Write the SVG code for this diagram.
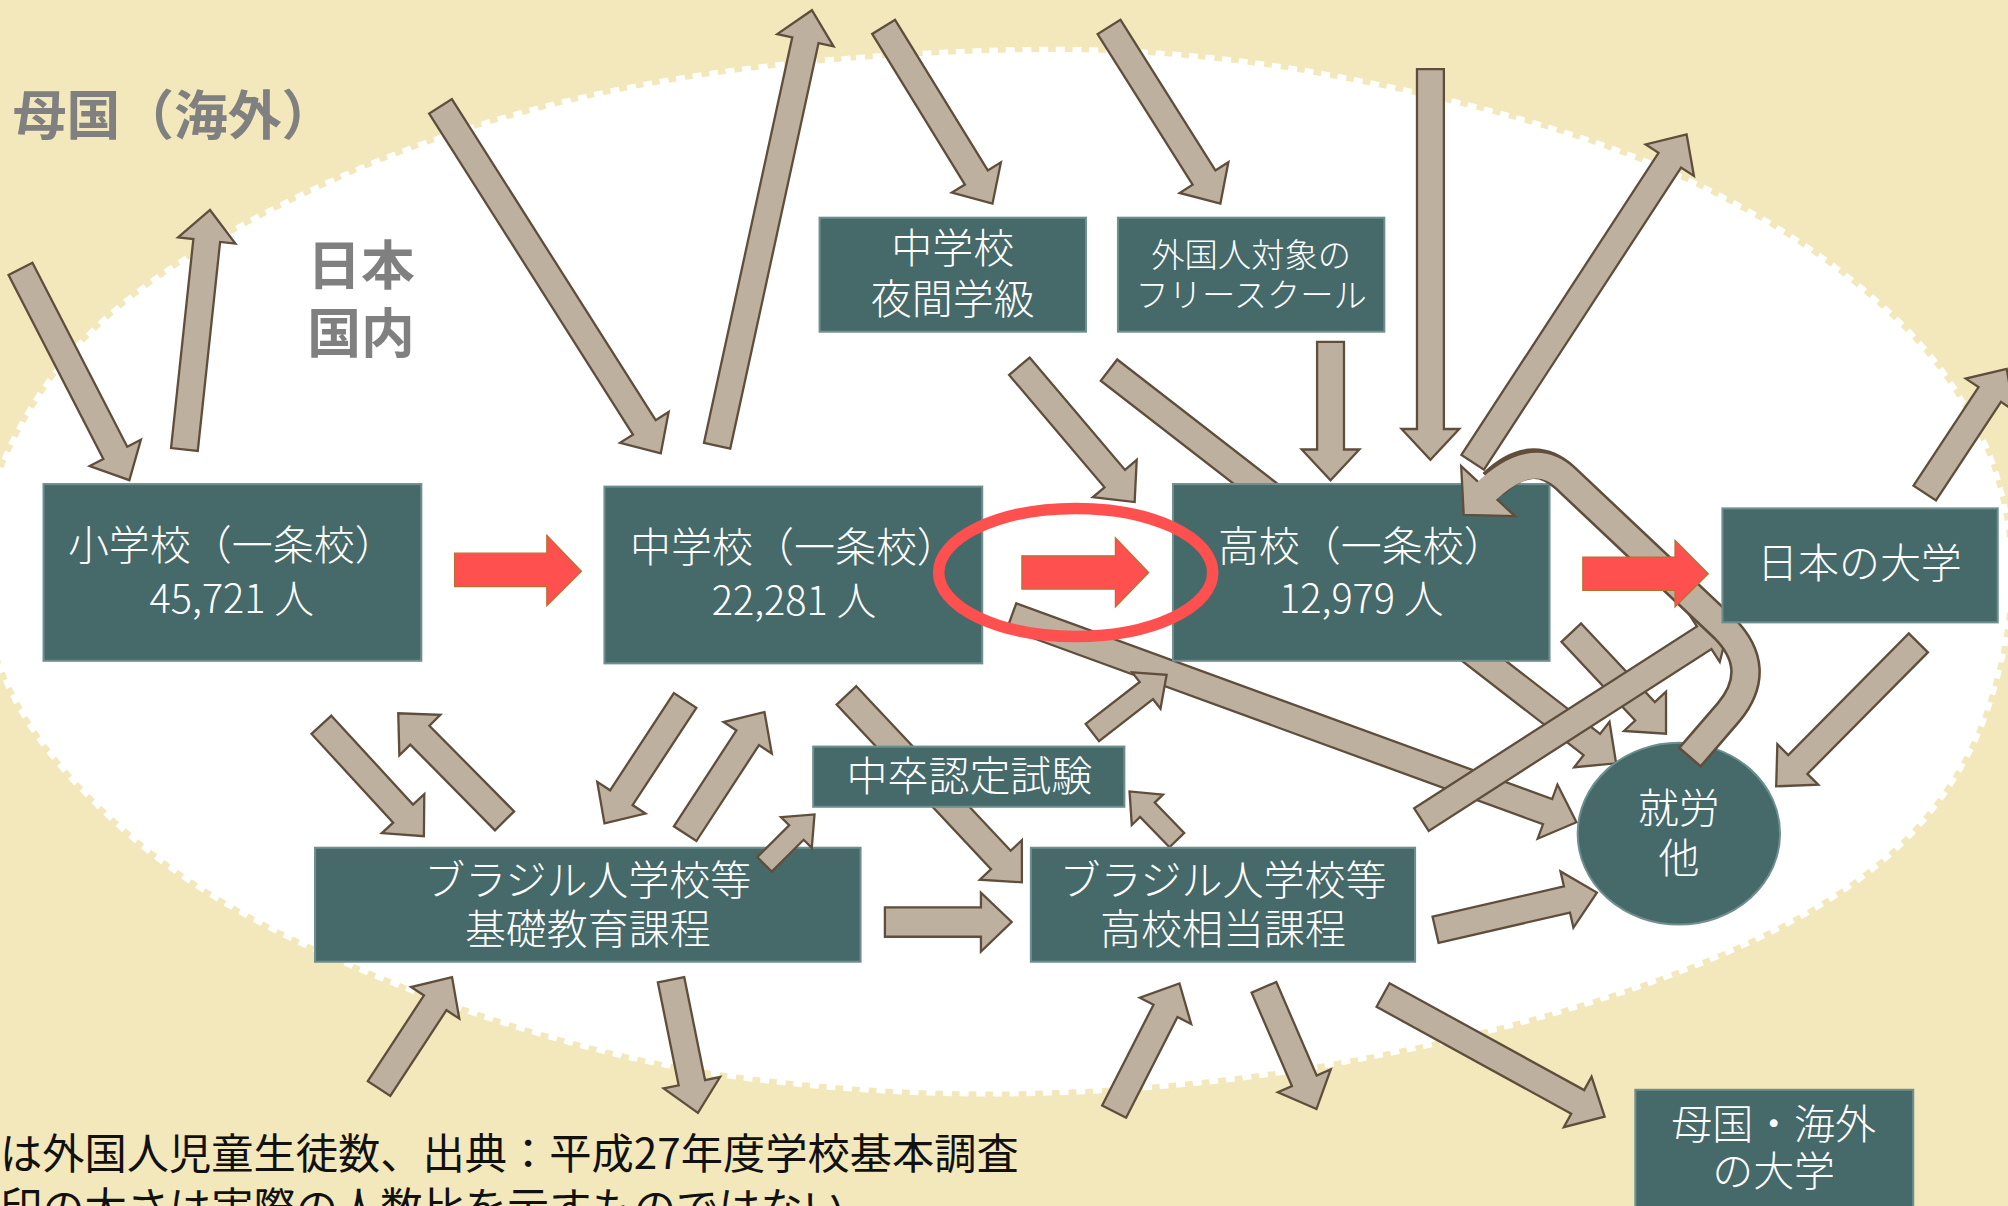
<svg xmlns="http://www.w3.org/2000/svg" width="2008" height="1206" viewBox="0 0 2008 1206">
<style>
.box{fill:#466A69;stroke:#6F8F8E;stroke-width:1.6}
.t{font-family:"Noto Sans CJK JP","Noto Sans",sans-serif;fill:#ffffff;text-anchor:middle;dominant-baseline:central;font-weight:300;font-size:32px}
.lbl{font-family:"Noto Sans CJK JP","Noto Sans",sans-serif;fill:#808080;font-weight:700;font-size:42px;dominant-baseline:central}
.arr{fill:#BDB09F;stroke:#5F4E3C;stroke-width:1.8;stroke-linejoin:miter}
.red{fill:#FF5050;stroke:#B8702E;stroke-width:1}
.note{font-family:"Noto Sans CJK JP","Noto Sans",sans-serif;fill:#111111;font-size:33px}
</style>
<rect x="0" y="0" width="2008" height="1206" fill="#F2E8BB"/>
<g transform="scale(1.2806)">
<path id="japan-area" d="M668.5,47 Q790,38 870,41.5 Q950,45 1021.5,57.5 Q1093,70 1156.5,86.5 Q1220,103 1270,122 Q1320,141 1370,169.5 Q1420,198 1461,233.5 Q1502,269 1525,305 Q1548,341 1557,370.5 Q1566,400 1568,427.5 Q1570,455 1566.5,485 Q1563,515 1551.5,550 Q1540,585 1517.5,617.5 Q1495,650 1462.5,676 Q1430,702 1387.5,723.5 Q1345,745 1292.5,764 Q1240,783 1175,800 Q1110,817 1035,830 Q960,843 880,848.5 Q800,854 725,851.5 Q650,849 575,839 Q500,829 415,803.5 Q330,778 245,739 Q160,700 107.5,655 Q55,610 27.5,569 Q0,528 -8,485.5 Q-16,443 -8,401 Q0,359 31.5,310.5 Q63,262 118.5,222 Q174,182 259.5,143 Q345,104 446,80 Q547,56 668.5,47 Z" fill="#ffffff" stroke="#ffffff" stroke-width="8" stroke-dasharray="7 6"/>

<g id="labels">
<text class="lbl" x="10" y="87">母国（海外）</text>
<text class="lbl"><tspan x="240" y="204">日本</tspan><tspan x="240" y="257">国内</tspan></text>
</g>

<g id="connectors">
<path class="arr" transform="translate(16,210) rotate(62.74)" d="M0,-10.5 H161.6 V-22.5 L185.6,0 L161.6,22.5 V10.5 H0 Z"/>
<path class="arr" transform="translate(144,351) rotate(-83.9)" d="M0,-10.5 H164.1 V-22.5 L188.1,0 L164.1,22.5 V10.5 H0 Z"/>
<path class="arr" transform="translate(344,83) rotate(57.6)" d="M0,-10.5 H297 V-22.5 L321,0 L297,22.5 V10.5 H0 Z"/>
<path class="arr" transform="translate(560,348) rotate(-77.72)" d="M0,-10.5 H324 V-22.5 L348,0 L324,22.5 V10.5 H0 Z"/>
<path class="arr" transform="translate(690,21) rotate(58.37)" d="M0,-10.5 H138.1 V-22.5 L162.1,0 L138.1,22.5 V10.5 H0 Z"/>
<path class="arr" transform="translate(866,21) rotate(57.77)" d="M0,-10.5 H139.1 V-22.5 L163.1,0 L139.1,22.5 V10.5 H0 Z"/>
<path class="arr" transform="translate(1117,54) rotate(90)" d="M0,-10.5 H281 V-22.5 L305,0 L281,22.5 V10.5 H0 Z"/>
<path class="arr" transform="translate(1150,361) rotate(-56.88)" d="M0,-10.5 H281.7 V-22.5 L305.7,0 L281.7,22.5 V10.5 H0 Z"/>
<path class="arr" transform="translate(1503,385) rotate(-56.58)" d="M0,-10.5 H92.2 V-22.5 L116.2,0 L92.2,22.5 V10.5 H0 Z"/>
<path class="arr" transform="translate(796,286) rotate(49.67)" d="M0,-10.5 H115.1 V-22.5 L139.1,0 L115.1,22.5 V10.5 H0 Z"/>
<path class="arr" transform="translate(1039,267) rotate(90)" d="M0,-10.5 H84 V-22.5 L108,0 L84,22.5 V10.5 H0 Z"/>
<path class="arr" transform="translate(790,481) rotate(20.06)" d="M0,-10.5 H445.5 V-22.5 L469.5,0 L445.5,22.5 V10.5 H0 Z"/>
<path class="arr" transform="translate(866,289) rotate(37.79)" d="M0,-10.5 H477.1 V-22.5 L501.1,0 L477.1,22.5 V10.5 H0 Z"/>
<path class="arr" transform="translate(1227,494) rotate(46.87)" d="M0,-10.5 H84.2 V-22.5 L108.2,0 L84.2,22.5 V10.5 H0 Z"/>
<path class="arr" transform="translate(1110,640) rotate(-32.75)" d="M0,-10.5 H262.5 V-22.5 L286.5,0 L262.5,22.5 V10.5 H0 Z"/>
<path class="arr" transform="translate(535,547) rotate(123.27)" d="M0,-10.5 H90.8 V-22.5 L114.8,0 L90.8,22.5 V10.5 H0 Z"/>
<path class="arr" transform="translate(535,651) rotate(-56.87)" d="M0,-10.5 H89.4 V-22.5 L113.4,0 L89.4,22.5 V10.5 H0 Z"/>
<path class="arr" transform="translate(251,566) rotate(47.4)" d="M0,-10.5 H94.2 V-22.5 L118.2,0 L94.2,22.5 V10.5 H0 Z"/>
<path class="arr" transform="translate(394,641) rotate(-134.66)" d="M0,-10.5 H94.1 V-22.5 L118.1,0 L94.1,22.5 V10.5 H0 Z"/>
<path class="arr" transform="translate(661,543) rotate(46.83)" d="M0,-10.5 H176.2 V-22.5 L200.2,0 L176.2,22.5 V10.5 H0 Z"/>
<path class="arr" transform="translate(853,572) rotate(-37.81)" d="M0,-8.5 H53.4 V-18 L73.4,0 L53.4,18 V8.5 H0 Z"/>
<path class="arr" transform="translate(919,656) rotate(-134.23)" d="M0,-8 H33 V-17 L53,0 L33,17 V8 H0 Z"/>
<path class="arr" transform="translate(691,720) rotate(0)" d="M0,-11.5 H75 V-23 L99,0 L75,23 V11.5 H0 Z"/>
<path class="arr" transform="translate(1121,726) rotate(-12.96)" d="M0,-10.5 H105.3 V-22.5 L129.3,0 L105.3,22.5 V10.5 H0 Z"/>
<path class="arr" transform="translate(1498,502) rotate(134.74)" d="M0,-10.5 H133.7 V-22.5 L157.7,0 L133.7,22.5 V10.5 H0 Z"/>
<path class="arr" transform="translate(296,850) rotate(-56.77)" d="M0,-10.5 H80 V-22.5 L104,0 L80,22.5 V10.5 H0 Z"/>
<path class="arr" transform="translate(524,765) rotate(78.58)" d="M0,-10.5 H82.1 V-22.5 L106.1,0 L82.1,22.5 V10.5 H0 Z"/>
<path class="arr" transform="translate(870,868) rotate(-62.98)" d="M0,-10.5 H88.3 V-22.5 L112.3,0 L88.3,22.5 V10.5 H0 Z"/>
<path class="arr" transform="translate(987,771) rotate(66.65)" d="M0,-10.5 H79.5 V-22.5 L103.5,0 L79.5,22.5 V10.5 H0 Z"/>
<path class="arr" transform="translate(1080,777) rotate(28.77)" d="M0,-10.5 H173.4 V-22.5 L197.4,0 L173.4,22.5 V10.5 H0 Z"/>
</g>

<g id="n-elem"><rect class="box" x="34" y="378" width="295" height="138"/><text class="t"><tspan x="181" y="423">小学校（一条校）</tspan><tspan x="181" y="465" style="font-size:31px">45,721 人</tspan></text></g>
<g id="n-jhs"><rect class="box" x="472" y="380" width="295" height="138"/><text class="t"><tspan x="620" y="425">中学校（一条校）</tspan><tspan x="620" y="466" style="font-size:31px">22,281 人</tspan></text></g>
<g id="n-hs"><rect class="box" x="916" y="378" width="294" height="138"/><text class="t"><tspan x="1063" y="424">高校（一条校）</tspan><tspan x="1063" y="465" style="font-size:31px">12,979 人</tspan></text></g>
<g id="n-night"><rect class="box" x="640" y="170" width="208" height="89"/><text class="t"><tspan x="744" y="191">中学校</tspan><tspan x="744" y="231">夜間学級</tspan></text></g>
<g id="n-free"><rect class="box" x="873" y="170" width="208" height="89"/><text class="t" style="font-size:26px"><tspan x="977" y="197">外国人対象の</tspan><tspan x="977" y="228">フリースクール</tspan></text></g>
<g id="n-exam"><rect class="box" x="635" y="583" width="243" height="47"/><text class="t" x="757" y="604">中卒認定試験</text></g>
<g id="n-br-basic"><rect class="box" x="246" y="662" width="426" height="89"/><text class="t"><tspan x="459" y="685">ブラジル人学校等</tspan><tspan x="459" y="723">基礎教育課程</tspan></text></g>
<g id="n-br-hs"><rect class="box" x="805" y="662" width="300" height="89"/><text class="t"><tspan x="955" y="685">ブラジル人学校等</tspan><tspan x="955" y="723">高校相当課程</tspan></text></g>
<g id="n-work"><ellipse class="box" cx="1311" cy="651" rx="79" ry="71"/><text class="t"><tspan x="1311" y="629">就労</tspan><tspan x="1311" y="668">他</tspan></text></g>
<g id="n-univ-abroad"><rect class="box" x="1277" y="851" width="217" height="120"/><text class="t"><tspan x="1385" y="875">母国・海外</tspan><tspan x="1385" y="912">の大学</tspan></text></g>

<g id="connectors-top">
<path class="arr" transform="translate(597,675) rotate(-45)" d="M0,-8 H35.2 V-17 L55.2,0 L35.2,17 V8 H0 Z"/>
<path d="M1319,592 L1350,556 Q1378,522 1346,490 L1222,373 Q1196,349 1166,378" fill="none" stroke="#5F4E3C" stroke-width="24"/>
<path class="arr" d="M1141,364 L1183,403 L1143,402 Z"/>
<path d="M1320.3,590.5 L1350,556 Q1378,522 1346,490 L1222,373 Q1196,349 1158,386" fill="none" stroke="#BDB09F" stroke-width="20"/>
</g>

<g id="n-univ-jp"><rect class="box" x="1345" y="397" width="215" height="89"/><text class="t" x="1452" y="437">日本の大学</text></g>

<g id="connectors-main">
<path class="red" d="M355,432 H427 V418 L454,446 L427,473 V458 H355 Z"/>
<path class="red" d="M798,434 H871 V420 L897,447 L871,474 V460 H798 Z"/>
<path class="red" d="M1236,435 H1308 V422 L1334,448 L1308,474 V461 H1236 Z"/>
</g>
<ellipse id="highlight" cx="840" cy="447" rx="107" ry="50" fill="none" stroke="#FF5050" stroke-width="9"/>

<g id="note">
<text class="note"><tspan x="0" y="913">は外国人児童生徒数、出典：平成27年度学校基本調査</tspan><tspan x="0" y="955">印の太さは実際の人数比を示すものではない</tspan></text>
</g>
</g>
</svg>
